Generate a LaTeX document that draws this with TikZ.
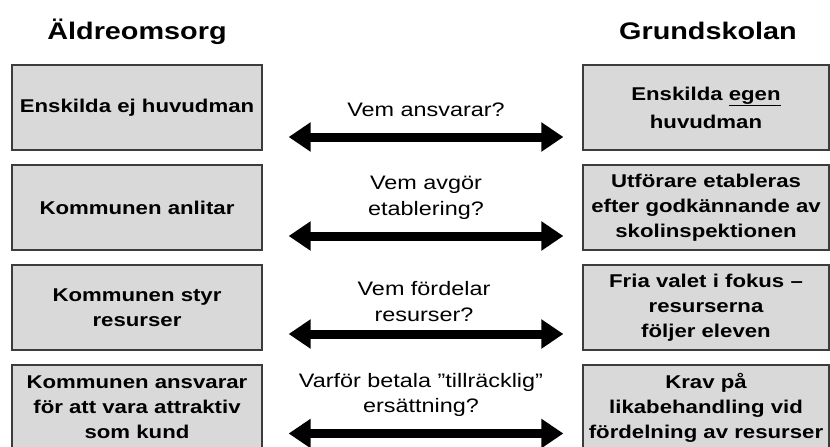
\documentclass[tikz,border=0pt]{standalone}
\usepackage{fontspec}
\setmainfont[FakeStretch=1.2]{Liberation Sans}
\usetikzlibrary{arrows.meta}
\definecolor{boxfill}{HTML}{D9D9D9}
\definecolor{boxline}{HTML}{3C3C3C}
\begin{document}
\begin{tikzpicture}[x=1pt,y=-1pt,
  panel/.style={draw=boxline, line width=1.3pt, fill=boxfill, minimum height=85pt,
    inner sep=0pt, align=center, font=\fontsize{18.5}{25}\selectfont\bfseries},
  leftpanel/.style={panel, minimum width=250pt},
  rightpanel/.style={panel, minimum width=246pt},
  heading/.style={font=\fontsize{24}{28}\selectfont\bfseries, anchor=base},
  question/.style={align=center, font=\fontsize{19.5}{25.5}\selectfont},
  both/.style={line width=9pt,
    {Triangle[width=28pt,length=22pt]}-{Triangle[width=28pt,length=22pt]},
    shorten <=26pt, shorten >=19pt}
]
\useasboundingbox (0,0) rectangle (830,447);

% column headings
\node[heading] (hl) at (137,39) {Äldreomsorg};
\node[heading] (hr) at (708,39) {Grundskolan};

% elderly care column
\node[leftpanel] (l1) at (137,107.5) {Enskilda ej huvudman};
\node[leftpanel] (l2) at (137,207.5) {Kommunen anlitar};
\node[leftpanel] (l3) at (137,307.5) {Kommunen styr\\resurser};
\node[leftpanel] (l4) at (137,407.5) {Kommunen ansvarar\\för att vara attraktiv\\som kund};

% compulsory school column
\node[rightpanel, font=\fontsize{18.5}{28}\selectfont\bfseries] (r1) at (706,107.5) {Enskilda \underline{egen}\\huvudman};
\node[rightpanel] (r2) at (706,207.5) {Utförare etableras\\efter godkännande av\\skolinspektionen};
\node[rightpanel] (r3) at (706,307.5) {Fria valet i fokus –\\resurserna\\följer eleven};
\node[rightpanel] (r4) at (706,407.5) {Krav på\\likabehandling vid\\fördelning av resurser};

% questions between the columns
\node[question] (q1) at (426,110) {Vem ansvarar?};
\node[question] (q2) at (426,198) {Vem avgör\\etablering?};
\node[question] (q3) at (424,301.5) {Vem fördelar\\resurser?};
\node[question] (q4) at (421,395) {Varför betala ”tillräcklig”\\ersättning?};

% double-headed arrows
\draw[both] ([yshift=-29.5pt]l1.east) -- ([yshift=-29.5pt]r1.west);
\draw[both] ([yshift=-28.5pt]l2.east) -- ([yshift=-28.5pt]r2.west);
\draw[both] ([yshift=-26.5pt]l3.east) -- ([yshift=-26.5pt]r3.west);
\draw[both] ([yshift=-26pt]l4.east) -- ([yshift=-26pt]r4.west);
\end{tikzpicture}
\end{document}
